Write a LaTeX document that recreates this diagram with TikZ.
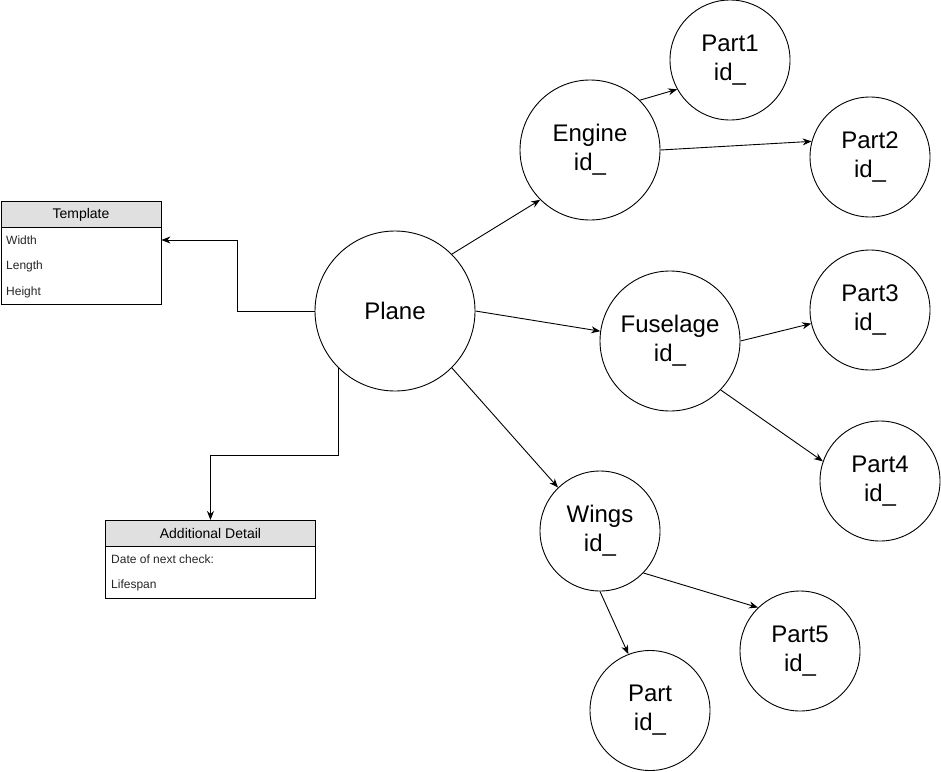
\documentclass[tikz,border=0pt]{standalone}
\usepackage{fontspec}
\setmainfont{Liberation Sans}
\usetikzlibrary{arrows.meta}
\definecolor{hdr}{HTML}{E0E0E0}
\begin{document}
\begin{tikzpicture}[x=1pt,y=-1pt,
  bubble/.style={draw,circle,line width=0.9pt,inner sep=0pt,align=center,
    font=\fontsize{24}{29}\selectfont},
  arr/.style={draw,line width=0.9pt,-{Stealth[length=9pt,width=7pt]}},
  hdrbox/.style={draw,fill=hdr,line width=0.9pt,inner sep=0pt,anchor=north west,
    font=\fontsize{14}{16}\selectfont},
  bodybox/.style={draw,line width=0.9pt,inner sep=0pt,anchor=north west},
  rowtxt/.style={anchor=west,inner sep=0pt,text=black!85,font=\fontsize{12}{14}\selectfont}
]
\useasboundingbox (0,0) rectangle (941,771);

% circles
\node[bubble,minimum size=160pt] (plane) at (395,311) {Plane};
\node[bubble,minimum size=140pt] (engine) at (590,150) {Engine\\id\_};
\node[bubble,minimum size=120pt] (part1) at (730,60) {Part1\\id\_};
\node[bubble,minimum size=120pt] (part2) at (870,157) {Part2\\id\_};
\node[bubble,minimum size=140pt] (fus) at (670,341) {Fuselage\\id\_};
\node[bubble,minimum size=120pt] (part3) at (870,310) {Part3\\id\_};
\node[bubble,minimum size=120pt] (part4) at (880,481) {Part4\\id\_};
\node[bubble,minimum size=120pt] (wings) at (600,531) {Wings\\id\_};
\node[bubble,minimum size=120pt] (part5) at (800,651) {Part5\\id\_};
\node[bubble,minimum size=120pt] (part) at (650,710.5) {Part\\id\_};

% Template table
\node[hdrbox,minimum width=160pt,minimum height=26pt] (tmplhead) at (0.5,201) {Template};
\node[bodybox,minimum width=160pt,minimum height=77pt] (tmplbody) at (0.5,227) {};
\node[rowtxt] (tw) at (6,240) {Width};
\node[rowtxt] (tl) at (6,266) {Length};
\node[rowtxt] (th) at (6,292) {Height};

% Additional Detail table
\node[hdrbox,minimum width=210pt,minimum height=26pt] (addhead) at (105,520) {Additional Detail};
\node[bodybox,minimum width=210pt,minimum height=52pt] (addbody) at (105,546) {};
\node[rowtxt] (ad) at (111,559) {Date of next check:};
\node[rowtxt] (al) at (111,585) {Lifespan};

% bend helpers
\coordinate (bend1) at (237,0);
\coordinate (bend2) at (0,455);

% connectors
\draw[arr] (plane.west) -- (plane.west -| bend1) |- (tmplbody.east |- tw);
\draw[arr] (plane.-135) -- (plane.-135 |- bend2) -| (addhead.north);
\draw[arr] (plane.45) -- (engine.225);
\draw[arr] (plane.east) -- (fus.172);
\draw[arr] (plane.-45) -- (wings.134);
\draw[arr] (engine.45) -- (part1.209);
\draw[arr] (engine.east) -- (part2.165);
\draw[arr] (fus.east) -- (part3.193);
\draw[arr] (fus.-44) -- (part4.161);
\draw[arr] (wings.-44) -- (part5.134);
\draw[arr] (wings.south) -- (part.111);
\end{tikzpicture}
\end{document}
